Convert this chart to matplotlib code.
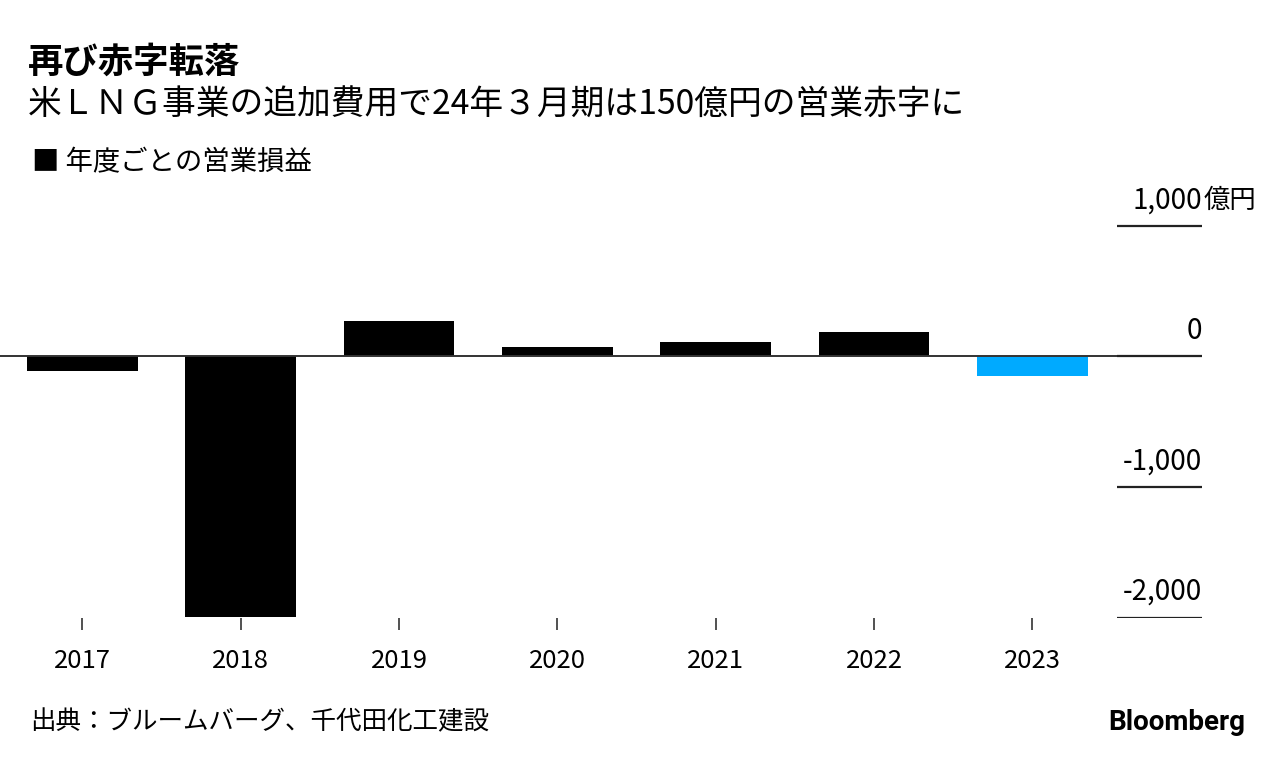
import matplotlib
matplotlib.use("Agg")
import matplotlib.pyplot as plt

plt.rcParams['font.family'] = ['Noto Sans CJK JP', 'DejaVu Sans']

# data
years = ['2017', '2018', '2019', '2020', '2021', '2022', '2023']
op_income = [-115, -1995, 275, 71, 110, 186, -150]
bar_colors = ['#000000'] * 6 + ['#00aaff']
y_ticks = [1000, 0, -1000, -2000]
y_labels = ['1,000', '0', '-1,000', '-2,000']

W, H = 1285, 766
fig = plt.figure(figsize=(W / 100, H / 100), dpi=100)

# axes from px x 0..1202, y 200..617.7 (from top)
ax = fig.add_axes([0, 1 - 617.7 / H, 1202 / W, (617.7 - 200) / H])
x = list(range(len(years)))
ax.bar(x, op_income, width=0.70, color=bar_colors, zorder=2)
ax.set_ylim(-2000, 1198)
ax.set_xlim(-0.521, 7.072)

for s in ax.spines.values():
    s.set_visible(False)
ax.set_yticks([])
ax.set_xticks(x)
ax.set_xticklabels(years, fontsize=18.5)
ax.tick_params(axis='x', direction='out', length=8.6, width=1.2, color='#333333', pad=13)

ax.axhline(0, color='#333333', lw=1.4, zorder=3)
tr = ax.get_yaxis_transform()
ax.hlines(y_ticks, 0.929, 1.0, transform=tr, color='#222222', lw=1.6, zorder=3)
for v, lab in zip(y_ticks, y_labels):
    ax.annotate(lab, (1.0, v), xycoords=tr, xytext=(0, 18.5), textcoords='offset points',
                ha='right', va='center', fontsize=20, annotation_clip=False)
ax.annotate('億円', (1.0, y_ticks[0]), xycoords=tr, xytext=(1, 18.5), textcoords='offset points',
            ha='left', va='center', fontsize=19, annotation_clip=False)

fig.text(28 / W, 1 - 62 / H, '再び赤字転落', fontsize=25.5, fontweight='bold', va='center', ha='left')
fig.text(28 / W, 1 - 105 / H, '米ＬＮＧ事業の追加費用で24年３月期は150億円の営業赤字に',
         fontsize=24.3, va='center', ha='left')
fig.text(32 / W, 1 - 163 / H, '■ 年度ごとの営業損益', fontsize=19.7, va='center', ha='left')
fig.text(30 / W, 1 - 722 / H, '出典：ブルームバーグ、千代田化工建設', fontsize=18.4, va='center', ha='left')
fig.text(1245 / W, 1 - 722 / H, 'Bloomberg', fontsize=20, fontweight='bold', va='center', ha='right',
         family='Roboto')

fig.savefig('out.png', dpi=100)
